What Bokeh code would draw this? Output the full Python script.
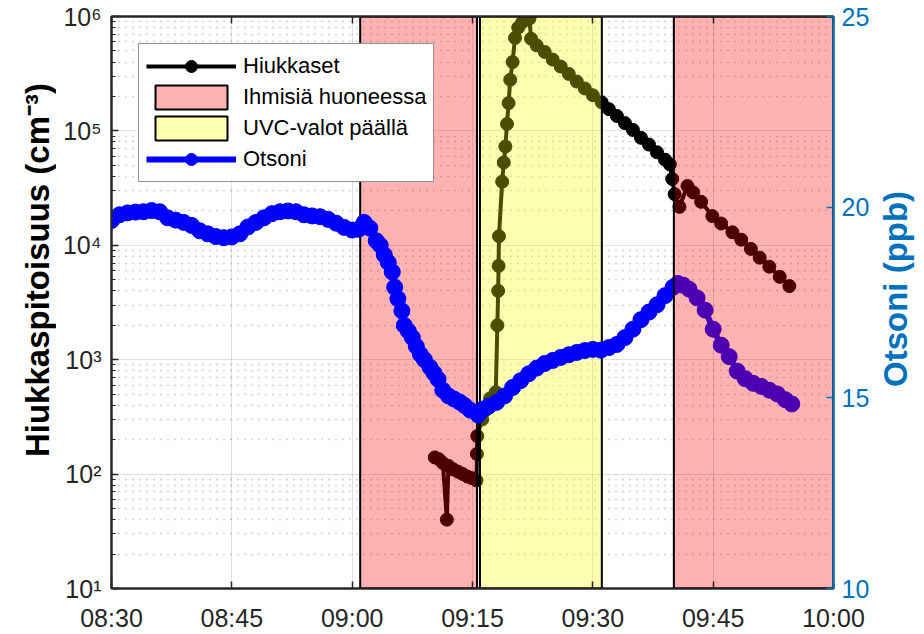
import numpy as np
from bokeh.plotting import figure
from bokeh.layouts import row
from bokeh.models import (Range1d, LinearAxis, FixedTicker, Legend, LegendItem,
                          LinearScale)
from bokeh.core.properties import value
from bokeh.embed import file_html
from bokeh.resources import INLINE

# ---------------- data ----------------
# time in minutes since midnight (08:30 = 510)
x_tick_minutes = [510, 525, 540, 555, 570, 585, 600]
x_tick_labels = ["08:30", "08:45", "09:00", "09:15", "09:30", "09:45", "10:00"]
left_tick_values = [1e1, 1e2, 1e3, 1e4, 1e5, 1e6]
left_tick_labels = ["10¹", "10²", "10³", "10⁴", "10⁵", "10⁶"]
right_tick_values = [10, 15, 20, 25]

particle_time = [550.3, 550.8, 551.3, 551.8, 552.0, 552.6, 553.2, 553.8, 554.4, 555.0,
                 555.5, 555.55, 555.6, 556.2, 556.6, 557.2, 557.9, 558.1, 558.2, 558.25,
                 558.3, 558.7, 558.9, 559.1, 559.3, 559.5, 559.7, 560.0, 560.3, 560.7,
                 561.2, 561.9, 562.1, 562.3, 563.0, 564.0, 565.0, 566.0, 567.0, 568.0,
                 569.0, 570.0, 571.1, 572.0, 573.0, 574.0, 575.0, 576.0, 577.0, 578.0,
                 579.0, 579.6, 579.9, 580.2, 580.8, 581.8, 582.5, 583.5, 584.9, 586.0,
                 587.4, 588.5, 589.7, 590.8, 592.0, 593.3, 594.5]
particle_conc = [140, 135, 125, 40, 118, 110, 105, 100, 95, 92,
                 88, 150, 215, 300, 360, 460, 520, 2000, 4000, 6600,
                 12000, 36000, 53000, 73000, 115000, 175000, 280000, 400000, 650000, 800000,
                 890000, 990000, 960000, 640000, 560000, 490000, 420000, 365000, 315000, 270000,
                 235000, 205000, 178000, 155000, 135000, 117000, 102000, 87000, 76000, 65000,
                 56000, 51000, 38000, 28000, 21700, 33000, 29000, 24000, 18000, 15500,
                 13000, 11200, 9300, 7800, 6500, 5300, 4400]

ozone_time = [510, 511, 512, 513, 514, 515, 516, 517, 518, 519,
              520, 521, 522, 523, 524, 525, 526, 527, 528, 529,
              530, 531, 532, 533, 534, 535, 536, 537, 538, 539,
              540, 540.8, 541.5, 542.2, 543, 543.5, 544, 544.5, 545, 545.3,
              545.7, 546.2, 546.5, 547, 547.5, 548, 548.5, 549, 549.7, 550.2,
              550.7, 551.3, 552, 552.7, 553.4, 554, 554.7, 555.7, 556.3, 557,
              558, 559, 560, 561, 562, 563, 564, 565, 566, 567,
              568, 569, 570, 571, 572, 573, 574, 575, 576, 577,
              578, 579, 580, 580.6, 581.3, 582, 583, 584, 585, 586,
              587, 588, 589, 590, 591, 592, 593, 594, 594.8]
ozone_ppb = [19.65, 19.8, 19.85, 19.87, 19.88, 19.91, 19.88, 19.72, 19.66, 19.6,
             19.52, 19.38, 19.3, 19.23, 19.2, 19.22, 19.3, 19.48, 19.6, 19.72,
             19.83, 19.88, 19.9, 19.88, 19.8, 19.77, 19.75, 19.68, 19.58, 19.47,
             19.4, 19.42, 19.6, 19.45, 19.12, 19.0, 18.75, 18.55, 18.3, 17.9,
             17.6, 17.28, 16.9, 16.75, 16.58, 16.35, 16.14, 16.0, 15.8, 15.65,
             15.49, 15.2, 15.05, 14.97, 14.89, 14.8, 14.68, 14.55, 14.7, 14.78,
             14.88, 15.05, 15.27, 15.45, 15.63, 15.78, 15.9, 15.98, 16.06, 16.13,
             16.19, 16.24, 16.27, 16.25, 16.32, 16.4, 16.58, 16.8, 17.05, 17.25,
             17.44, 17.68, 17.9, 18.0, 17.95, 17.85, 17.62, 17.3, 16.8, 16.38,
             16.08, 15.7, 15.5, 15.38, 15.3, 15.2, 15.1, 14.95, 14.84]

people_start = [541.0, 580.1]
people_end = [555.56, 600.0]
uvc_start = [555.93]
uvc_end = [571.12]

# ---------------- style ----------------
FONT = "Liberation Sans"
OZ_AXIS = "#0072BD"
AX = "#262626"
W, H = 924, 634
W0 = 56                      # strip holding the left axis title
W2 = 52                      # strip holding the right axis title
BL, BR, BT, BB = 111 - W0, 90 - W2, 16, 41

p = figure(width=W - W0 - W2, height=H,
           x_range=Range1d(x_tick_minutes[0], x_tick_minutes[-1]),
           y_range=Range1d(left_tick_values[0], left_tick_values[-1]),
           y_axis_type="log", output_backend="svg", toolbar_location=None,
           min_border_left=BL, min_border_right=BR, min_border_top=BT, min_border_bottom=BB)
p.extra_y_ranges = {"ozone": Range1d(right_tick_values[0], right_tick_values[-1])}
p.extra_y_scales = {"ozone": LinearScale()}
p.outline_line_color = AX
p.outline_line_width = 2
p.background_fill_color = "white"
p.border_fill_color = "white"

x_ticker = FixedTicker(ticks=x_tick_minutes)
minor_y = [m * v for v in left_tick_values[:-1] for m in range(2, 10)]
y_ticker = FixedTicker(ticks=left_tick_values, minor_ticks=minor_y)

xa = p.xaxis[0]
ya = p.yaxis[0]
xa.ticker = x_ticker
xa.major_label_overrides = dict(zip(x_tick_minutes, x_tick_labels))
ya.ticker = y_ticker
ya.major_label_overrides = dict(zip(left_tick_values, left_tick_labels))

ra = LinearAxis(y_range_name="ozone", ticker=FixedTicker(ticks=right_tick_values))
p.add_layout(ra, "right")
ta = LinearAxis(ticker=x_ticker)
p.add_layout(ta, "above")

for ax in [xa, ya, ta]:
    ax.axis_line_color = AX
    ax.axis_line_width = 2
    ax.major_tick_line_color = AX
    ax.minor_tick_line_color = AX
    ax.major_label_text_color = AX
for ax in [xa, ya, ra, ta]:
    ax.major_tick_in = 7
    ax.major_tick_out = 0
    ax.minor_tick_in = 4
    ax.minor_tick_out = 0
    ax.major_tick_line_width = 1.5
    ax.major_label_text_font = FONT
    ax.major_label_text_font_size = "25px"
xa.minor_tick_line_color = None
ta.minor_tick_line_color = None
ra.minor_tick_line_color = None
ta.major_label_text_font_size = "1px"
ta.major_label_text_color = None
ta.major_label_standoff = 0
xa.major_label_standoff = 15
ya.major_label_standoff = 10

ra.axis_line_color = OZ_AXIS
ra.axis_line_width = 2
ra.major_tick_line_color = OZ_AXIS
ra.major_label_text_color = OZ_AXIS
ra.major_label_standoff = 8

for g, tk in [(p.xgrid[0], x_ticker), (p.ygrid[0], y_ticker)]:
    g.ticker = tk
    g.grid_line_color = AX
    g.grid_line_alpha = 0.15
    g.grid_line_width = 1
p.ygrid[0].minor_grid_line_color = AX
p.ygrid[0].minor_grid_line_alpha = 0.4
p.ygrid[0].minor_grid_line_width = 1.5
p.ygrid[0].minor_grid_line_dash = "1 6"

# ---------------- glyphs (drawing order matters) ----------------
h_line = p.line(particle_time, particle_conc, color="black", line_width=4)
h_pts = p.scatter(particle_time, particle_conc, size=13, color="black")

q_people1 = p.quad(left=people_start[:1], right=people_end[:1], bottom=left_tick_values[0],
                   top=left_tick_values[-1], fill_color="#ff0000", fill_alpha=0.3,
                   line_color="black", line_width=2)
q_uvc = p.quad(left=uvc_start, right=uvc_end, bottom=left_tick_values[0],
               top=left_tick_values[-1], fill_color="#ffff00", fill_alpha=0.3,
               line_color="black", line_width=2)

o_line = p.line(ozone_time, ozone_ppb, y_range_name="ozone", color="#0000ff", line_width=6)
o_pts = p.scatter(ozone_time, ozone_ppb, y_range_name="ozone", size=16, color="#0000ff")

q_people2 = p.quad(left=people_start[1:], right=people_end[1:], bottom=left_tick_values[0],
                   top=left_tick_values[-1], fill_color="#ff0000", fill_alpha=0.3,
                   line_color="black", line_width=2)

legend = Legend(items=[
    LegendItem(label="Hiukkaset", renderers=[h_line, h_pts]),
    LegendItem(label="Ihmisiä huoneessa", renderers=[q_people1]),
    LegendItem(label="UVC-valot päällä", renderers=[q_uvc]),
    LegendItem(label="Otsoni", renderers=[o_line, o_pts]),
], location="top_left", margin=27, padding=7, spacing=1,
    glyph_width=90, glyph_height=30, label_standoff=7,
    label_text_font=FONT, label_text_font_size="22px", label_text_color="black",
    border_line_color=AX, border_line_width=1.5,
    background_fill_color="white", background_fill_alpha=1.0)
p.add_layout(legend)


# ---------------- axis-title strips (both read bottom-to-top) ----------------
def title_strip(width, text, x, y_from_bottom, color):
    s = figure(width=width, height=H, x_range=Range1d(0, width), y_range=Range1d(0, H),
               output_backend="svg", toolbar_location=None,
               x_axis_location=None, y_axis_location=None, min_border=0)
    s.outline_line_color = None
    s.grid.visible = False
    s.background_fill_color = "white"
    s.border_fill_color = "white"
    s.text(x=[x], y=[y_from_bottom], text=[text],
           angle=90, angle_units="deg", text_align="center", text_baseline="middle",
           text_font=value(FONT), text_font_style="bold", text_font_size="33px",
           text_color=color)
    return s


left_strip = title_strip(W0, "Hiukkaspitoisuus (cm⁻³)", 37, H - 281, "black")
right_strip = title_strip(W2, "Otsoni (ppb)", W2 / 2 - 3, H - 302, OZ_AXIS)

layout = row(left_strip, p, right_strip, spacing=0)
open("out.html", "w").write(file_html(layout, INLINE))
